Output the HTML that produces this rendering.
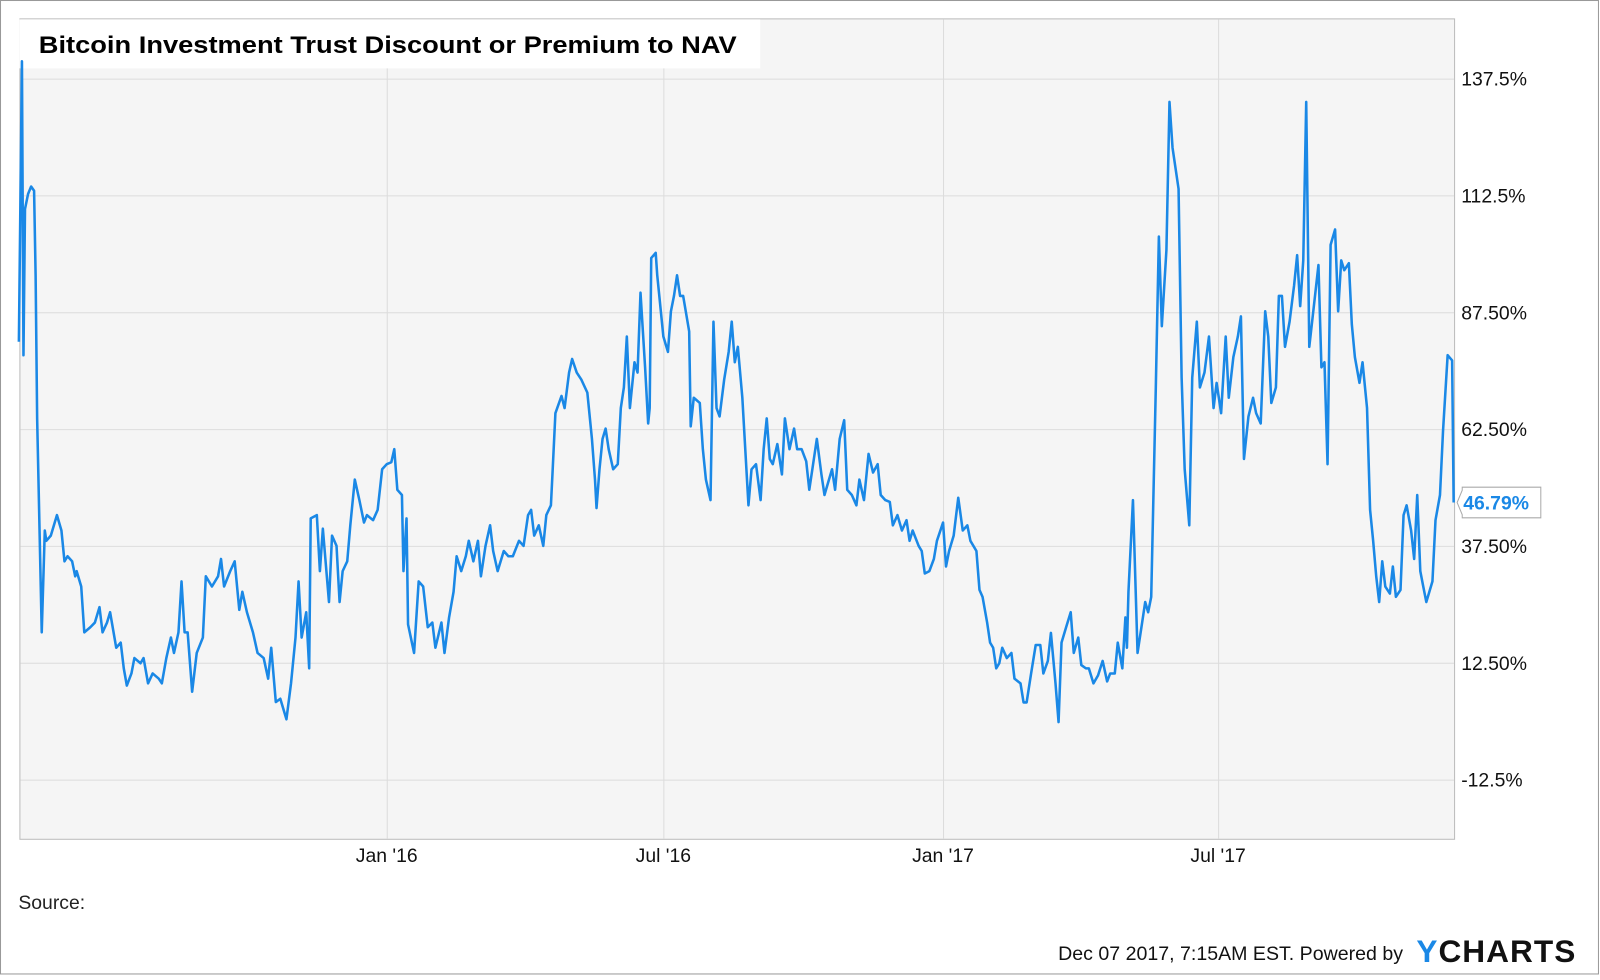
<!DOCTYPE html>
<html><head><meta charset="utf-8">
<style>
html,body{margin:0;padding:0;background:#fff;}
body{width:1600px;height:975px;overflow:hidden;font-family:"Liberation Sans",Arial,sans-serif;}
svg text{font-family:"Liberation Sans",Arial,sans-serif;}
</style></head>
<body>
<svg id="chart" width="1600" height="975">
<g transform="scale(1.0204)">
<rect x="0.5" y="0.5" width="1566" height="954" fill="#fff" stroke="#999"/>
<rect x="19.5" y="18.5" width="1406" height="804" fill="#f5f5f5" stroke="#bbb"/>
<g id="grid"></g>
<g id="xlabels"></g>
<g id="ylabels"></g>
<rect x="19" y="19" width="726" height="48" fill="#fff"/>
<text x="38" y="52" font-size="24" font-weight="bold" fill="#000" textLength="684" lengthAdjust="spacingAndGlyphs">Bitcoin Investment Trust Discount or Premium to NAV</text>
<path id="series" fill="none" stroke="#1a88e6" stroke-width="2.5" stroke-linejoin="round"/>
<g>
<path id="lvbox" fill="#fff" stroke="#aaa" stroke-width="1"/>
<text id="lvtext" font-size="19" font-weight="bold" fill="#1a88e6"></text>
</g>
<text x="18" y="891" font-size="19" fill="#222">Source:</text>
<text x="1037" y="941" font-size="19" fill="#111" textLength="338" lengthAdjust="spacingAndGlyphs">Dec 07 2017, 7:15AM EST. Powered by</text>
<text x="1388" y="943" font-size="31" font-weight="bold" fill="#111" letter-spacing="1"><tspan fill="#1a88e6">Y</tspan>CHARTS</text>
</g>
</svg>
<script>
// days since 2016-01-01
const days = [-242,-240,-239,-238,-236,-234,-232,-231,-230,-227,-225,-224,-221,-217,-214,-212,-210,-207,-205,-204,-201,-199,-195,-192,-189,-187,-184,-182,-178,-175,-173,-171,-168,-166,-162,-160,-157,-154,-150,-148,-145,-142,-140,-137,-135,-133,-131,-128,-125,-121,-119,-115,-111,-109,-107,-103,-100,-97,-95,-92,-88,-85,-81,-78,-76,-73,-70,-66,-63,-60,-58,-56,-53,-51,-50,-46,-44,-42,-38,-36,-33,-31,-29,-26,-24,-21,-18,-15,-13,-9,-6,-3,0,3,5,7,10,11,13,14,18,21,24,27,30,32,36,38,41,44,46,49,52,54,57,60,62,65,68,70,73,77,80,83,87,90,93,95,97,100,103,105,108,109,111,115,117,120,122,125,128,132,135,137,138,140,142,144,146,149,152,154,156,158,160,163,165,167,170,172,173,174,177,178,182,185,187,189,191,193,195,199,200,202,206,208,210,213,215,217,219,222,225,227,229,231,234,238,240,243,246,248,250,252,254,257,260,262,265,268,270,273,276,278,280,283,286,288,291,293,295,298,301,303,306,309,311,314,317,320,323,325,328,331,333,336,339,342,344,346,350,352,354,357,360,362,366,368,370,373,376,379,382,384,388,390,392,395,397,399,401,403,405,408,411,413,417,419,421,424,427,430,432,435,437,440,442,444,447,450,452,455,457,460,462,465,468,471,474,476,479,481,484,486,487,488,491,494,497,499,501,503,506,508,510,513,515,517,521,523,525,528,530,533,535,538,541,544,546,549,552,554,557,560,562,564,567,570,572,575,578,580,582,585,587,589,591,594,597,599,601,603,605,607,610,613,615,617,619,621,624,626,628,630,633,635,637,640,642,645,647,649,651,653,655,657,660,662,664,667,669,671,674,676,678,680,682,684,688,690,693,695,698,701,702];
const values = [81.2,141.2,78.3,109.6,112.8,114.4,113.5,95.4,64.8,19.0,40.8,38.6,39.7,44.1,40.8,34.2,35.3,34.2,31.0,32.1,28.8,19.0,20.1,21.1,24.4,19.0,21.1,23.3,15.7,16.8,11.3,7.6,10.2,13.5,12.4,13.5,8.1,10.2,9.1,8.1,13.5,17.9,14.6,19.0,29.9,19.0,19.0,6.3,14.6,17.9,31.0,28.8,31.0,34.7,28.8,32.1,34.2,23.8,27.7,23.3,19.0,14.6,13.5,9.1,15.7,4.1,4.8,0.4,8.1,17.9,29.9,17.9,23.3,11.3,43.4,44.1,32.1,41.2,25.5,39.7,37.5,25.5,32.1,34.2,41.9,51.7,47.3,42.5,44.1,43.0,45.2,53.9,55.0,55.4,58.2,49.5,48.4,32.1,43.4,20.7,14.6,29.9,28.8,20.1,21.1,15.7,21.1,14.6,22.2,27.7,35.3,32.1,35.3,38.6,34.2,38.6,31.0,37.5,41.9,36.4,32.1,36.4,35.3,35.3,38.6,37.5,44.1,45.2,39.7,41.9,37.5,44.1,46.2,52.8,65.9,69.6,67.0,74.6,77.5,74.6,73.1,70.3,60.4,51.7,45.6,53.9,60.4,62.6,58.2,53.9,55.0,67.0,71.4,82.3,67.0,76.8,74.6,91.7,75.7,63.7,67.0,99.1,100.2,95.4,82.3,79.0,87.7,91.0,95.4,91.0,91.0,83.4,63.1,69.2,68.1,58.2,51.7,47.3,85.5,67.0,65.2,73.1,79.0,85.5,76.8,80.1,69.2,46.2,53.9,55.0,47.3,58.2,64.8,56.1,55.0,59.3,52.8,64.8,58.2,62.6,58.2,58.2,55.6,49.5,53.9,60.4,52.8,48.4,51.7,53.9,49.5,60.4,64.4,49.5,48.4,46.2,51.7,47.3,57.2,53.2,55.0,48.4,47.3,46.9,41.9,44.1,40.8,43.0,38.6,40.8,37.5,36.4,31.6,32.1,34.7,38.6,42.5,33.1,36.4,39.7,47.8,40.8,41.9,38.6,36.4,28.1,26.6,21.1,16.8,15.7,11.3,12.4,15.7,13.5,14.6,9.1,8.1,4.0,4.0,10.2,16.3,16.3,10.2,12.9,18.9,8.1,-0.2,16.8,20.1,23.3,14.6,17.9,12.0,11.3,11.3,8.1,9.8,12.9,8.5,10.2,10.2,16.8,11.3,22.2,15.7,27.7,47.3,14.6,21.1,25.5,23.3,26.6,71.4,103.7,84.5,100.8,132.5,122.7,113.9,73.5,53.9,41.9,73.5,85.5,71.4,74.6,82.3,67.0,72.4,65.9,82.3,69.2,77.9,82.3,86.6,56.1,65.2,69.2,65.9,63.7,87.7,82.3,68.1,71.4,91.0,91.0,80.1,85.5,93.2,99.7,88.8,98.6,132.5,80.1,88.8,97.6,75.7,76.8,55.0,101.9,105.2,87.7,98.6,96.5,98.0,84.9,77.9,72.4,76.8,67.0,45.2,38.6,31.0,25.5,34.2,28.8,27.3,33.1,26.6,28.1,44.1,46.2,40.8,34.7,48.4,32.1,28.8,25.5,29.9,43.0,48.4,62.2,78.3,77.2,46.79];
const yTicks = [137.5,112.5,87.5,62.5,37.5,12.5,-12.5];
const yTickLabels = ["137.5%","112.5%","87.50%","62.50%","37.50%","12.50%","-12.5%"];
const xTickDays = [0,182,366,547];
const xTickLabels = ["Jan '16","Jul '16","Jan '17","Jul '17"];

const NS = "http://www.w3.org/2000/svg";
function xs(d){ return 379 + d*1.4895; }
function ys(v){ return 77 + (137.5 - v)*4.58; }

const grid = document.getElementById('grid');
const yl = document.getElementById('ylabels');
const xl = document.getElementById('xlabels');
yTicks.forEach((t,i)=>{
  const l = document.createElementNS(NS,'line');
  l.setAttribute('x1',20); l.setAttribute('x2',1425);
  l.setAttribute('y1',ys(t)+0.5); l.setAttribute('y2',ys(t)+0.5);
  l.setAttribute('stroke','#dcdcdc');
  
  
  grid.appendChild(l);
  const tx = document.createElementNS(NS,'text');
  tx.setAttribute('x',1432); tx.setAttribute('y',ys(t)+7);
  tx.setAttribute('font-size','19'); tx.setAttribute('fill','#111');
  tx.textContent = yTickLabels[i];
  
  
  yl.appendChild(tx);
});
xTickDays.forEach((d,i)=>{
  const l = document.createElementNS(NS,'line');
  l.setAttribute('x1',xs(d)+0.5); l.setAttribute('x2',xs(d)+0.5);
  l.setAttribute('y1',19); l.setAttribute('y2',822);
  l.setAttribute('stroke','#dcdcdc');
  
  
  grid.appendChild(l);
  const tx = document.createElementNS(NS,'text');
  tx.setAttribute('x',xs(d)); tx.setAttribute('y',845);
  tx.setAttribute('font-size','19'); tx.setAttribute('fill','#111');
  tx.setAttribute('text-anchor','middle');
  tx.textContent = xTickLabels[i];
  
  
  xl.appendChild(tx);
});
let d = '';
days.forEach((dd,i)=>{ d += (i?'L':'M') + xs(dd).toFixed(1) + ',' + ys(values[i]).toFixed(1); });
document.getElementById('series').setAttribute('d', d);

const last = values[values.length-1];
const ly = ys(last);
document.getElementById('lvbox').setAttribute('d',
  `M1428,${ly} L1433,${ly-12} L1433,${ly-15} L1510,${ly-15} L1510,${ly+15} L1433,${ly+15} L1433,${ly+12} Z`);
const lt = document.getElementById('lvtext');
lt.setAttribute('x',1434); lt.setAttribute('y',ly+7);
lt.textContent = last.toFixed(2) + '%';
</script>
</body></html>
